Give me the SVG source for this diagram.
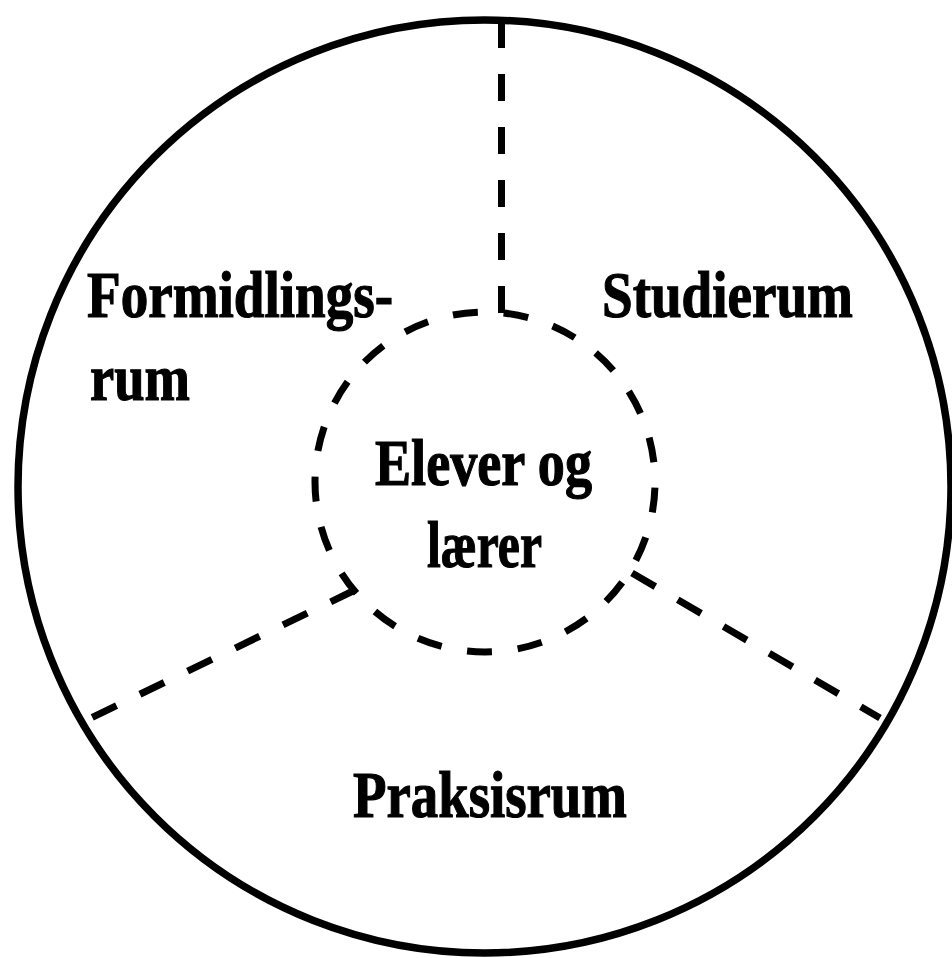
<svg xmlns="http://www.w3.org/2000/svg" width="952" height="958" viewBox="0 0 952 958">
<style>
.solid{fill:none;stroke:#000;stroke-width:7.5}
.dash{fill:none;stroke:#000;stroke-width:7;stroke-dasharray:27 26}
.ring{fill:none;stroke:#000;stroke-width:7;stroke-dasharray:25 25.864;stroke-dashoffset:45.26}
.lbl{font-family:"Liberation Serif","Times New Roman",serif;font-weight:bold;font-size:66px;fill:#000;stroke:#000;stroke-width:1.2}
</style>
<rect width="952" height="958" fill="#fff"/>
<g id="outer-circle">
<circle class="solid" cx="484.5" cy="486.5" r="466.5"/>
</g>
<g id="connectors">
<path class="dash" d="M501.5,313 L501.5,20"/>
<path class="dash" d="M355,590 L91,718"/>
<path class="dash" d="M632,573 L880,718"/>
</g>
<g id="center">
<circle class="ring" cx="485" cy="482" r="170"/>
<text class="lbl" x="375" y="485" textLength="217" lengthAdjust="spacingAndGlyphs">Elever og</text>
<text class="lbl" x="427" y="567" textLength="115" lengthAdjust="spacingAndGlyphs">lærer</text>
</g>
<g id="formidlingsrum">
<text class="lbl" x="87" y="317" textLength="306" lengthAdjust="spacingAndGlyphs">Formidlings-</text>
<text class="lbl" x="90" y="400" textLength="100" lengthAdjust="spacingAndGlyphs">rum</text>
</g>
<g id="studierum">
<text class="lbl" x="602" y="317" textLength="251" lengthAdjust="spacingAndGlyphs">Studierum</text>
</g>
<g id="praksisrum">
<text class="lbl" x="353" y="817" textLength="274" lengthAdjust="spacingAndGlyphs">Praksisrum</text>
</g>
</svg>
